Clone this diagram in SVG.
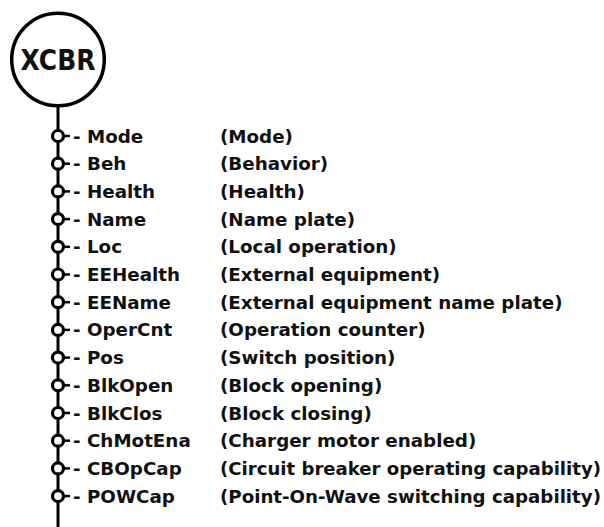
<svg xmlns="http://www.w3.org/2000/svg" width="604" height="527" viewBox="0 0 604 527">
<style>
.t{font-family:"DejaVu Sans","Liberation Sans",sans-serif;font-weight:bold;font-size:18.3px;fill:#111}
.h{font-family:"DejaVu Sans","Liberation Sans",sans-serif;font-weight:bold;font-size:29px;fill:#111}
.pin{fill:#fff;stroke:#000;stroke-width:3.2}
.ln{stroke:#000;stroke-width:3;fill:none}
</style>
<rect width="604" height="527" fill="#fff"/>
<g id="connectors">
<line class="ln" x1="58" y1="106" x2="58" y2="527"/>
<g stroke="#000" stroke-width="2.5">
<line x1="62" y1="136" x2="70" y2="136"/>
<line x1="62" y1="163.7" x2="70" y2="163.7"/>
<line x1="62" y1="191.4" x2="70" y2="191.4"/>
<line x1="62" y1="219.1" x2="70" y2="219.1"/>
<line x1="62" y1="246.8" x2="70" y2="246.8"/>
<line x1="62" y1="274.5" x2="70" y2="274.5"/>
<line x1="62" y1="302.2" x2="70" y2="302.2"/>
<line x1="62" y1="329.9" x2="70" y2="329.9"/>
<line x1="62" y1="357.6" x2="70" y2="357.6"/>
<line x1="62" y1="385.3" x2="70" y2="385.3"/>
<line x1="62" y1="413" x2="70" y2="413"/>
<line x1="62" y1="440.7" x2="70" y2="440.7"/>
<line x1="62" y1="468.4" x2="70" y2="468.4"/>
<line x1="62" y1="496.1" x2="70" y2="496.1"/>
</g>
</g>
<g id="XCBR">
<circle cx="58" cy="59.5" r="46.3" fill="#fff" stroke="#000" stroke-width="3.5"/>
<text class="h" x="58" y="70" text-anchor="middle" textLength="75" lengthAdjust="spacingAndGlyphs">XCBR</text>
</g>
<g id="Mode"><circle class="pin" cx="58" cy="136" r="5.5"/><text class="t" x="73" y="142.5">- Mode</text><text class="t" x="220" y="142.5">(Mode)</text></g>
<g id="Beh"><circle class="pin" cx="58" cy="163.7" r="5.5"/><text class="t" x="73" y="170.2">- Beh</text><text class="t" x="220" y="170.2">(Behavior)</text></g>
<g id="Health"><circle class="pin" cx="58" cy="191.4" r="5.5"/><text class="t" x="73" y="197.9">- Health</text><text class="t" x="220" y="197.9">(Health)</text></g>
<g id="Name"><circle class="pin" cx="58" cy="219.1" r="5.5"/><text class="t" x="73" y="225.6">- Name</text><text class="t" x="220" y="225.6">(Name plate)</text></g>
<g id="Loc"><circle class="pin" cx="58" cy="246.8" r="5.5"/><text class="t" x="73" y="253.3">- Loc</text><text class="t" x="220" y="253.3">(Local operation)</text></g>
<g id="EEHealth"><circle class="pin" cx="58" cy="274.5" r="5.5"/><text class="t" x="73" y="281">- EEHealth</text><text class="t" x="220" y="281">(External equipment)</text></g>
<g id="EEName"><circle class="pin" cx="58" cy="302.2" r="5.5"/><text class="t" x="73" y="308.7">- EEName</text><text class="t" x="220" y="308.7">(External equipment name plate)</text></g>
<g id="OperCnt"><circle class="pin" cx="58" cy="329.9" r="5.5"/><text class="t" x="73" y="336.4">- OperCnt</text><text class="t" x="220" y="336.4">(Operation counter)</text></g>
<g id="Pos"><circle class="pin" cx="58" cy="357.6" r="5.5"/><text class="t" x="73" y="364.1">- Pos</text><text class="t" x="220" y="364.1">(Switch position)</text></g>
<g id="BlkOpen"><circle class="pin" cx="58" cy="385.3" r="5.5"/><text class="t" x="73" y="391.8">- BlkOpen</text><text class="t" x="220" y="391.8">(Block opening)</text></g>
<g id="BlkClos"><circle class="pin" cx="58" cy="413" r="5.5"/><text class="t" x="73" y="419.5">- BlkClos</text><text class="t" x="220" y="419.5">(Block closing)</text></g>
<g id="ChMotEna"><circle class="pin" cx="58" cy="440.7" r="5.5"/><text class="t" x="73" y="447.2">- ChMotEna</text><text class="t" x="220" y="447.2">(Charger motor enabled)</text></g>
<g id="CBOpCap"><circle class="pin" cx="58" cy="468.4" r="5.5"/><text class="t" x="73" y="474.9">- CBOpCap</text><text class="t" x="220" y="474.9" textLength="381" lengthAdjust="spacingAndGlyphs">(Circuit breaker operating capability)</text></g>
<g id="POWCap"><circle class="pin" cx="58" cy="496.1" r="5.5"/><text class="t" x="73" y="502.6">- POWCap</text><text class="t" x="220" y="502.6" textLength="381" lengthAdjust="spacingAndGlyphs">(Point-On-Wave switching capability)</text></g>
</svg>
